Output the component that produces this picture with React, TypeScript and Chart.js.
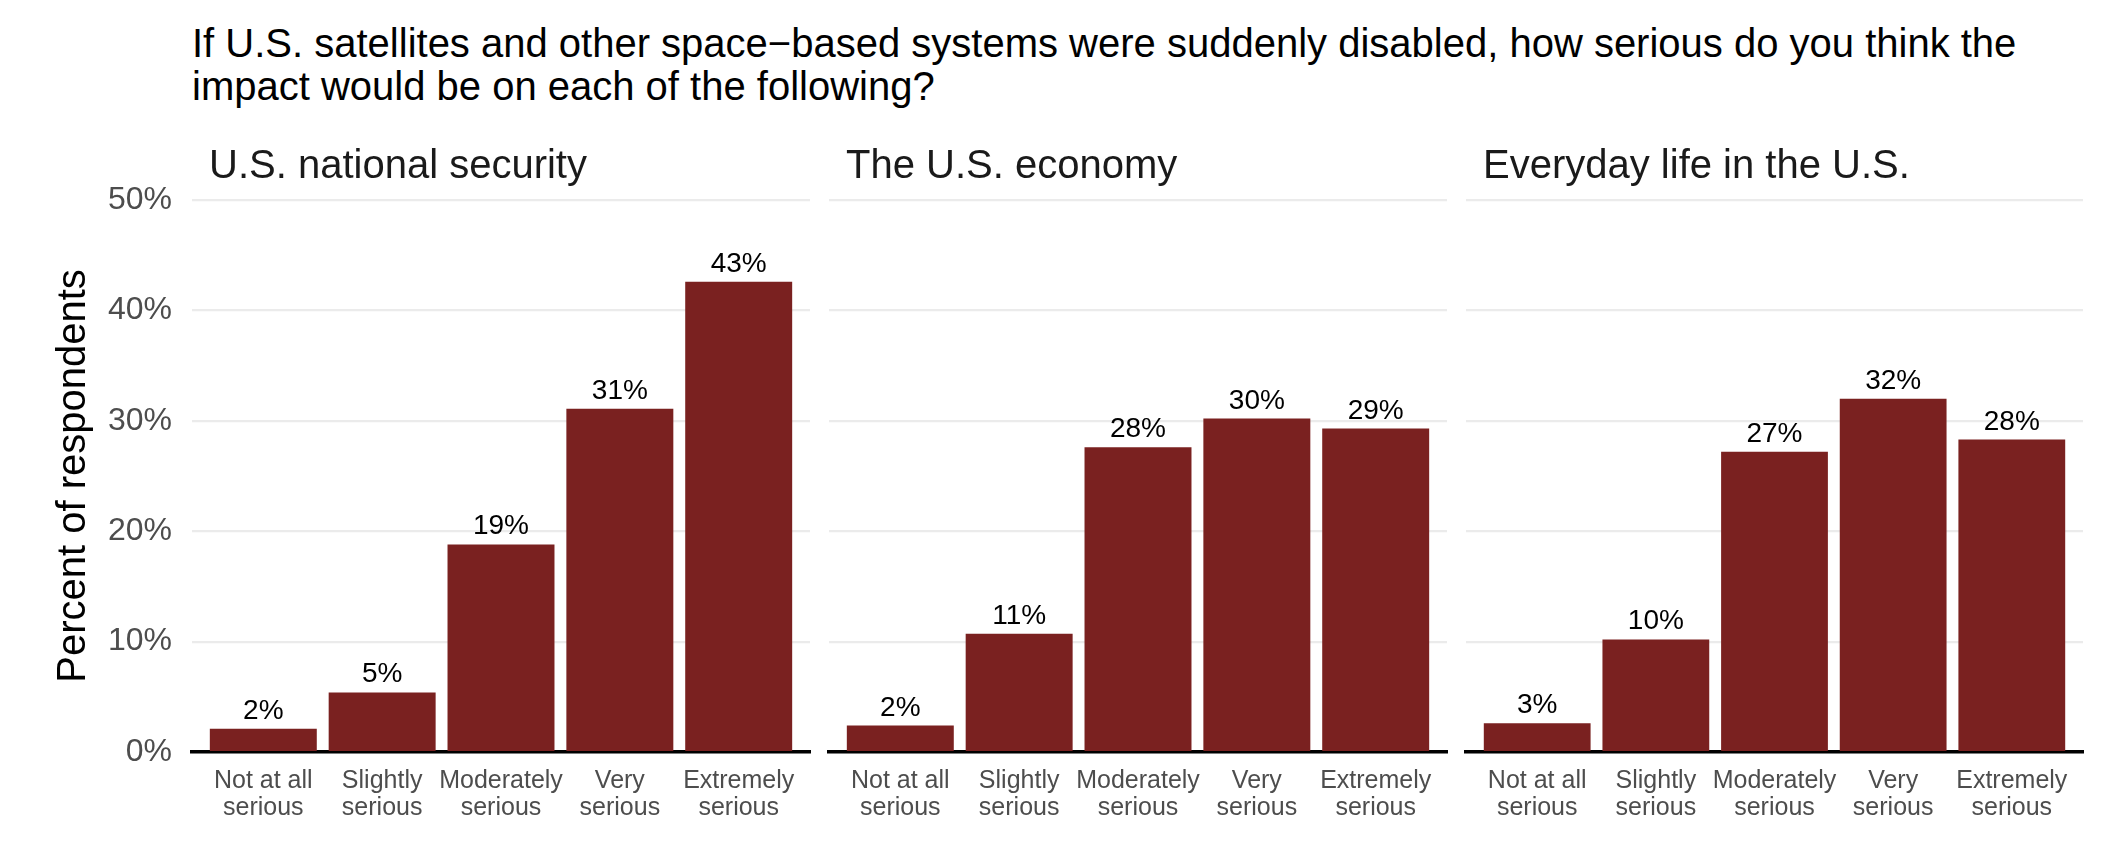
import React, { useEffect, useRef } from "react";
import { Chart, registerables } from "chart.js";

Chart.register(...registerables);

const FONT = '"Liberation Sans", Arial, Helvetica, sans-serif';

// ---- data ----
const titleLines = [
  "If U.S. satellites and other space\u2212based systems were suddenly disabled, how serious do you think the",
  "impact would be on each of the following?",
];
const categories = [
  ["Not at all", "serious"],
  ["Slightly", "serious"],
  ["Moderately", "serious"],
  ["Very", "serious"],
  ["Extremely", "serious"],
];
const panelTitles = ["U.S. national security", "The U.S. economy", "Everyday life in the U.S."];
const nationalSecurity = [2.1, 5.4, 18.8, 31.1, 42.6];
const economy = [2.4, 10.7, 27.6, 30.2, 29.3];
const everydayLife = [2.6, 10.2, 27.2, 32.0, 28.3];
const yTicks = [0, 10, 20, 30, 40, 50];
const yAxisTitle = "Percent of respondents";

const panelValues = [nationalSecurity, economy, everydayLife];

// ---- layout (pixels) ----
const CANVAS_TOP = 120;
const CANVAS_HEIGHT = 740;
const panelLayout = [
  { left: 0, width: 820, yWidth: 192, padRight: 10, showY: true },
  { left: 820, width: 637, yWidth: 9, padRight: 10, showY: false },
  { left: 1457, width: 663, yWidth: 9, padRight: 37, showY: false },
];

const annotatePlugin = {
  id: "annotate",
  afterDatasetsDraw(chart: any, _args: any, opts: any) {
    const ctx = chart.ctx;
    const meta = chart.getDatasetMeta(0);
    const data = chart.data.datasets[0].data;
    ctx.save();
    ctx.font = `28px ${FONT}`;
    ctx.fillStyle = "#000000";
    ctx.textAlign = "center";
    ctx.textBaseline = "alphabetic";
    meta.data.forEach((el: any, i: number) => {
      ctx.fillText(Math.round(data[i].y) + "%", el.x, el.y - 10);
    });
    ctx.font = `40px ${FONT}`;
    ctx.fillStyle = "#1a1a1a";
    ctx.textAlign = "left";
    ctx.fillText(opts.title, chart.chartArea.left + 17, opts.titleBaseline);
    ctx.restore();
  },
};

function Panel({ index }: { index: number }) {
  const ref = useRef<HTMLCanvasElement | null>(null);
  const lay = panelLayout[index];
  useEffect(() => {
    if (!ref.current) return;
    const values = panelValues[index];
    const chart = new Chart(ref.current, {
      type: "bar",
      data: {
        datasets: [
          {
            data: values.map((v, i) => ({ x: i + 1, y: v })),
            backgroundColor: "#7a2120",
            borderWidth: 0,
            barPercentage: 0.9,
            categoryPercentage: 1.0,
          },
        ],
      },
      plugins: [annotatePlugin],
      options: {
        responsive: false,
        animation: false,
        devicePixelRatio: 1,
        layout: { padding: { top: 80, right: lay.padRight, bottom: 0, left: 0 } },
        plugins: {
          legend: { display: false },
          tooltip: { enabled: false },
          title: { display: false },
          annotate: { title: panelTitles[index], titleBaseline: 178 - CANVAS_TOP },
        } as any,
        scales: {
          x: {
            type: "linear",
            min: 0.4,
            max: 5.6,
            offset: false,
            afterBuildTicks: (s: any) => {
              s.ticks = categories.map((_c, i) => ({ value: i + 1 }));
            },
            afterFit: (s: any) => {
              s.height = 108;
            },
            ticks: {
              autoSkip: false,
              maxRotation: 0,
              padding: 16,
              color: "#4d4d4d",
              font: { family: FONT, size: 25, lineHeight: 1.07 },
              callback: (v: any) => categories[Math.round(v) - 1] as any,
            },
            grid: { display: false, drawTicks: false },
            border: { display: true, color: "#000000", width: 3.4 },
          },
          y: {
            min: 0,
            max: 50,
            afterBuildTicks: (s: any) => {
              s.ticks = yTicks.map((v) => ({ value: v }));
            },
            afterFit: (s: any) => {
              s.width = lay.yWidth;
            },
            ticks: {
              display: lay.showY,
              padding: 20,
              color: "#4d4d4d",
              font: { family: FONT, size: 32 },
              callback: (v: any) => v + "%",
            },
            grid: { color: "#ebebeb", lineWidth: 2.2, drawTicks: false },
            border: { display: false },
            title: {
              display: lay.showY,
              text: yAxisTitle,
              color: "#000000",
              font: { family: FONT, size: 40, lineHeight: 1.2 },
              padding: { top: 50, bottom: 0 },
            },
          },
        },
      } as any,
    });
    return () => chart.destroy();
  }, [index]);
  return (
    <canvas
      ref={ref}
      width={lay.width}
      height={CANVAS_HEIGHT}
      style={{
        position: "absolute",
        left: lay.left,
        top: CANVAS_TOP,
        width: lay.width,
        height: CANVAS_HEIGHT,
      }}
    />
  );
}

export default function App() {
  return (
    <div
      style={{
        position: "absolute",
        left: 0,
        top: 0,
        width: 2120,
        height: 860,
        background: "#ffffff",
        overflow: "hidden",
      }}
    >
      <div
        style={{
          position: "absolute",
          left: 192,
          top: 22,
          fontFamily: FONT,
          fontSize: 40,
          lineHeight: "43px",
          color: "#000000",
          whiteSpace: "nowrap",
        }}
      >
        {titleLines[0]}
        <br />
        {titleLines[1]}
      </div>
      {panelLayout.map((_p, i) => (
        <Panel key={i} index={i} />
      ))}
    </div>
  );
}
